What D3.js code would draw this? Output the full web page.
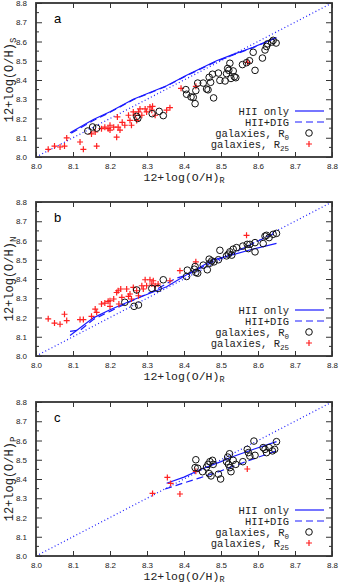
<!DOCTYPE html>
<html>
<head>
<meta charset="utf-8">
<script src="https://cdn.jsdelivr.net/npm/d3@7"></script>
<style>
  body { margin: 0; background: #fff; }
  svg { display: block; }
  .tick text { font-family: "Liberation Sans", Arial, sans-serif; font-size: 8px; fill: #222; }
</style>
</head>
<body>
<div id="chart"></div>
<script>
// ---- data ----
var xTicks = [8.0, 8.1, 8.2, 8.3, 8.4, 8.5, 8.6, 8.7, 8.8];
var yTicks = [8.0, 8.1, 8.2, 8.3, 8.4, 8.5, 8.6, 8.7, 8.8];
var panelNames = ["a", "b", "c"];
var panelSubs = ["S", "N", "P"];
var legendLabels = ["HII only", "HII+DIG", "galaxies, R", "galaxies, R"];
var legendSubs = ["", "", "0", "25"];

// panel a : S calibration
var aR25 = [[8.033,8.04],[8.05,8.057],[8.065,8.052],[8.077,8.057],[8.083,8.099],[8.119,8.078],[8.128,8.04],
  [8.164,8.057],[8.15,8.12],[8.16,8.13],[8.177,8.147],[8.186,8.155],[8.195,8.147],[8.2,8.165],[8.2,8.14],
  [8.21,8.155],[8.222,8.155],[8.218,8.103],[8.22,8.208],[8.227,8.14],[8.233,8.18],[8.24,8.165],[8.25,8.217],
  [8.254,8.19],[8.258,8.165],[8.263,8.234],[8.268,8.217],[8.272,8.19],[8.277,8.234],[8.281,8.25],[8.286,8.217],
  [8.295,8.25],[8.299,8.234],[8.308,8.26],[8.313,8.243],[8.315,8.263],[8.322,8.217],[8.353,8.243],[8.362,8.256],
  [8.392,8.357],[8.432,8.367],[8.572,8.492]];
var aR0 = [[8.14,8.135],[8.153,8.156],[8.164,8.15],[8.272,8.211],[8.275,8.2],[8.314,8.225],[8.333,8.237],[8.344,8.215],
  [8.405,8.35],[8.407,8.326],[8.419,8.312],[8.425,8.31],[8.43,8.277],[8.432,8.345],[8.437,8.384],[8.452,8.384],
  [8.461,8.353],[8.465,8.349],[8.468,8.414],[8.472,8.388],[8.477,8.43],[8.48,8.307],[8.493,8.436],[8.497,8.398],
  [8.511,8.395],[8.515,8.433],[8.518,8.46],[8.521,8.45],[8.524,8.487],[8.527,8.408],[8.533,8.447],[8.536,8.417],
  [8.54,8.412],[8.558,8.48],[8.569,8.49],[8.577,8.5],[8.587,8.544],[8.592,8.45],[8.612,8.514],[8.619,8.556],
  [8.623,8.574],[8.626,8.588],[8.637,8.597],[8.641,8.606],[8.649,8.592]];
var aHII = [[8.092,8.126],[8.155,8.195],[8.2,8.235],[8.263,8.3],[8.353,8.37],[8.407,8.425],[8.488,8.5],[8.533,8.533],[8.587,8.57],[8.65,8.62]];
var aDIG = [[8.095,8.124],[8.155,8.19],[8.2,8.232],[8.263,8.298],[8.353,8.368],[8.407,8.423],[8.488,8.497],[8.533,8.53],[8.587,8.568],[8.645,8.617]];

// panel b : N calibration
var bR25 = [[8.033,8.193],[8.05,8.171],[8.065,8.165],[8.077,8.217],[8.083,8.184],[8.119,8.189],[8.128,8.189],
  [8.15,8.206],[8.16,8.244],[8.164,8.227],[8.177,8.27],[8.186,8.275],[8.195,8.284],[8.2,8.287],[8.2,8.258],
  [8.21,8.296],[8.218,8.33],[8.222,8.339],[8.224,8.27],[8.229,8.348],[8.232,8.305],[8.245,8.348],[8.25,8.31],
  [8.254,8.322],[8.258,8.296],[8.263,8.356],[8.272,8.339],[8.277,8.313],[8.286,8.365],[8.29,8.348],[8.295,8.396],
  [8.299,8.365],[8.308,8.396],[8.313,8.374],[8.317,8.391],[8.322,8.365],[8.33,8.374],[8.362,8.391],[8.389,8.443],
  [8.432,8.489],[8.569,8.627]];
var bR0 = [[8.24,8.279],[8.265,8.258],[8.272,8.343],[8.277,8.265],[8.313,8.351],[8.33,8.351],[8.344,8.396],
  [8.407,8.413],[8.409,8.446],[8.428,8.451],[8.432,8.434],[8.437,8.43],[8.43,8.465],[8.452,8.472],[8.463,8.448],
  [8.468,8.503],[8.47,8.482],[8.475,8.494],[8.481,8.489],[8.493,8.5],[8.497,8.549],[8.515,8.52],[8.52,8.529],
  [8.524,8.541],[8.529,8.524],[8.533,8.555],[8.542,8.563],[8.559,8.571],[8.571,8.58],[8.574,8.558],[8.578,8.58],
  [8.592,8.589],[8.592,8.541],[8.614,8.584],[8.619,8.623],[8.623,8.627],[8.63,8.615],[8.641,8.632],[8.65,8.637]];
var bHII = [[8.092,8.107],[8.155,8.198],[8.2,8.24],[8.263,8.292],[8.353,8.36],[8.407,8.422],[8.479,8.5],[8.533,8.527],[8.587,8.556],[8.65,8.585]];
var bDIG = [[8.092,8.128],[8.12,8.135],[8.155,8.19],[8.2,8.232],[8.263,8.29],[8.32,8.34],[8.377,8.403],[8.407,8.42],[8.479,8.49],[8.533,8.535],[8.587,8.585],[8.645,8.638]];

// panel c : P calibration
var cR25 = [[8.315,8.325],[8.355,8.408],[8.364,8.377],[8.389,8.322],[8.432,8.44],[8.571,8.452]];
var cR0 = [[8.432,8.5],[8.43,8.459],[8.437,8.456],[8.45,8.438],[8.461,8.462],[8.465,8.476],[8.468,8.428],[8.47,8.49],
  [8.473,8.416],[8.477,8.497],[8.479,8.476],[8.493,8.425],[8.499,8.4],[8.515,8.49],[8.518,8.514],[8.523,8.531],
  [8.52,8.476],[8.524,8.459],[8.527,8.438],[8.533,8.497],[8.54,8.476],[8.559,8.49],[8.571,8.554],[8.574,8.537],
  [8.578,8.519],[8.589,8.597],[8.592,8.523],[8.614,8.563],[8.619,8.554],[8.623,8.537],[8.63,8.563],[8.639,8.546],
  [8.645,8.554],[8.65,8.594]];
var cHII = [[8.353,8.378],[8.4,8.41],[8.443,8.448],[8.5,8.49],[8.533,8.517],[8.59,8.556],[8.65,8.594]];
var cDIG = [[8.349,8.348],[8.4,8.38],[8.443,8.406],[8.5,8.442],[8.533,8.466],[8.59,8.506],[8.65,8.546]];

var oneToOne = [[8.0, 8.0], [8.8, 8.8]];

var panels = [
  {r25: aR25, r0: aR0, hii: aHII, dig: aDIG, top: 3},
  {r25: bR25, r0: bR0, hii: bHII, dig: bDIG, top: 202},
  {r25: cR25, r0: cR0, hii: cHII, dig: cDIG, top: 402}
];

// ---- drawing ----
var W = 339, H = 585;
var left = 36, right = 332, ph = 154;
var blue = "#1a1aff", red = "#ff2020", frameCol = "#333";
var mono = "'Liberation Mono', 'DejaVu Sans Mono', monospace";

var svg = d3.select("#chart").append("svg")
    .attr("width", W)
    .attr("height", H);

var xScale = d3.scaleLinear().domain([8.0, 8.8]).range([left, right]);

var lineGen = d3.line()
    .x(d => xScale(d[0]));

panels.forEach(function(p, i) {
    var yScale = d3.scaleLinear().domain([8.0, 8.8]).range([p.top + ph, p.top]);
    lineGen.y(d => yScale(d[1]));

    var g = svg.append("g");

    // axes with inward ticks
    g.append("g")
        .attr("transform", "translate(0," + (p.top + ph) + ")")
        .call(d3.axisBottom(xScale).tickValues(xTicks).tickSize(-5).tickPadding(6).tickFormat(d3.format(".1f")))
        .call(a => a.select(".domain").remove())
        .call(a => a.selectAll("line").attr("stroke", frameCol));

    g.append("g")
        .attr("transform", "translate(0," + p.top + ")")
        .call(d3.axisTop(xScale).tickValues(xTicks).tickSize(-5).tickFormat(""))
        .call(a => a.select(".domain").remove())
        .call(a => a.selectAll("line").attr("stroke", frameCol));

    g.append("g")
        .attr("transform", "translate(" + left + ",0)")
        .call(d3.axisLeft(yScale).tickValues(yTicks).tickSize(-6).tickPadding(9).tickFormat(d3.format(".1f")))
        .call(a => a.select(".domain").remove())
        .call(a => a.selectAll("line").attr("stroke", frameCol));

    g.append("g")
        .attr("transform", "translate(" + right + ",0)")
        .call(d3.axisRight(yScale).tickValues(yTicks).tickSize(-6).tickFormat(""))
        .call(a => a.select(".domain").remove())
        .call(a => a.selectAll("line").attr("stroke", frameCol));

    // minor y ticks
    var minors = d3.range(8.05, 8.8, 0.1);
    g.selectAll(".minorL").data(minors).enter().append("line")
        .attr("x1", left).attr("x2", left + 3)
        .attr("y1", d => yScale(d)).attr("y2", d => yScale(d))
        .attr("stroke", frameCol);
    g.selectAll(".minorR").data(minors).enter().append("line")
        .attr("x1", right).attr("x2", right - 3)
        .attr("y1", d => yScale(d)).attr("y2", d => yScale(d))
        .attr("stroke", frameCol);

    // clip for data
    var clipId = "clip" + i;
    g.append("clipPath").attr("id", clipId)
      .append("rect").attr("x", left).attr("y", p.top).attr("width", right - left).attr("height", ph);

    var data = g.append("g").attr("clip-path", "url(#" + clipId + ")");

    data.append("path")
        .attr("d", lineGen(oneToOne))
        .attr("fill", "none")
        .attr("stroke", blue)
        .attr("stroke-width", 1.2)
        .attr("stroke-dasharray", "1,2.5");

    data.append("path")
        .attr("d", lineGen(p.dig))
        .attr("fill", "none")
        .attr("stroke", blue)
        .attr("stroke-width", 1.2)
        .attr("stroke-dasharray", "7,4");

    data.append("path")
        .attr("d", lineGen(p.hii))
        .attr("fill", "none")
        .attr("stroke", blue)
        .attr("stroke-width", 1.2);

    data.selectAll(".r25").data(p.r25).enter().append("path")
        .attr("d", "M-3,0H3M0,-3V3")
        .attr("transform", d => "translate(" + xScale(d[0]) + "," + yScale(d[1]) + ")")
        .attr("stroke", red)
        .attr("stroke-width", 1.2);

    data.selectAll(".r0").data(p.r0).enter().append("circle")
        .attr("cx", d => xScale(d[0]))
        .attr("cy", d => yScale(d[1]))
        .attr("r", 3.3)
        .attr("fill", "none")
        .attr("stroke", "#111")
        .attr("stroke-width", 1);

    // frame
    g.append("rect")
        .attr("x", left).attr("y", p.top)
        .attr("width", right - left).attr("height", ph)
        .attr("fill", "none")
        .attr("stroke", frameCol)
        .attr("stroke-width", 1.8);

    // panel letter
    g.append("text")
        .attr("x", 54).attr("y", p.top + 20)
        .style("font", "13px 'Liberation Sans', Arial, sans-serif")
        .text(panelNames[i]);

    // x title
    var xt = g.append("text")
        .attr("x", (left + right) / 2)
        .attr("y", p.top + ph + 24)
        .attr("text-anchor", "middle")
        .style("font-family", mono).style("font-size", "11.5px").attr("fill", "#222");
    xt.append("tspan").text("12+log(O/H)");
    xt.append("tspan").attr("dy", 2).style("font-size", "8.5px").text("R");

    // y title
    var yt = g.append("text")
        .attr("transform", "translate(13," + (p.top + ph / 2) + ") rotate(-90)")
        .attr("text-anchor", "middle")
        .style("font-family", mono).style("font-size", "12px").attr("fill", "#222");
    yt.append("tspan").text("12+log(O/H)");
    yt.append("tspan").attr("dy", 3).style("font-size", "9px").text(panelSubs[i]);

    // legend
    var ly = [p.top + ph - 46, p.top + ph - 35, p.top + ph - 24, p.top + ph - 13];
    legendLabels.forEach(function(lab, k) {
        var t = g.append("text")
            .attr("x", 289).attr("y", ly[k] + 3.5)
            .attr("text-anchor", "end")
            .style("font-family", mono).style("font-size", "10.5px").attr("fill", "#222");
        t.append("tspan").text(lab);
        if (legendSubs[k]) {
            t.append("tspan").attr("dy", 3).style("font-size", "7.5px").text(legendSubs[k]);
        }
    });
    g.append("line").attr("x1", 295).attr("x2", 324).attr("y1", ly[0]).attr("y2", ly[0])
        .attr("stroke", blue).attr("stroke-width", 1.2);
    g.append("line").attr("x1", 295).attr("x2", 324).attr("y1", ly[1]).attr("y2", ly[1])
        .attr("stroke", blue).attr("stroke-width", 1.2).attr("stroke-dasharray", "7,4");
    g.append("circle").attr("cx", 309).attr("cy", ly[2]).attr("r", 3.3)
        .attr("fill", "none").attr("stroke", "#111");
    g.append("path").attr("d", "M-3,0H3M0,-3V3")
        .attr("transform", "translate(309," + ly[3] + ")")
        .attr("stroke", red).attr("stroke-width", 1.2);
});
</script>
</body>
</html>
